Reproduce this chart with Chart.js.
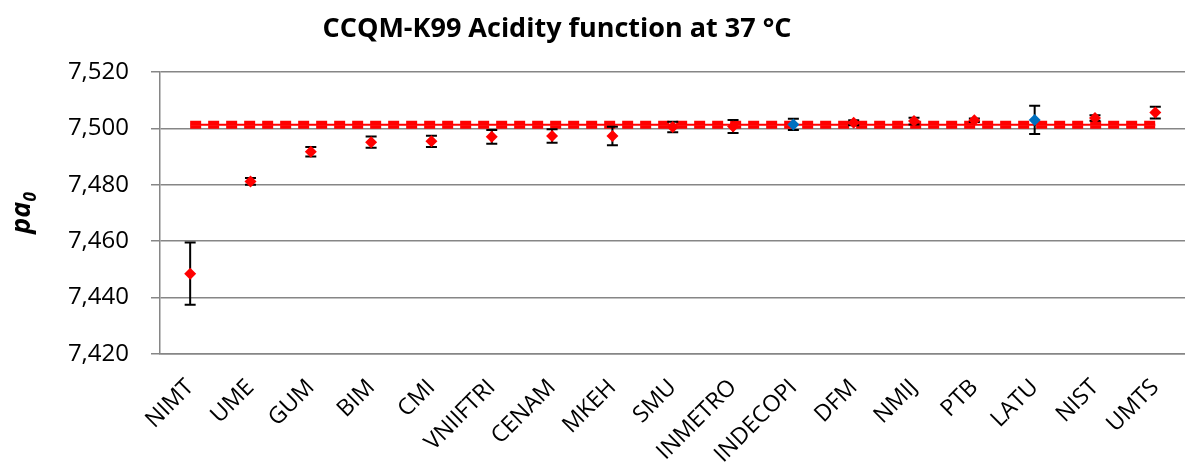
<!DOCTYPE html>
<html>
<head>
<meta charset="utf-8">
<title>CCQM-K99 Acidity function at 37 °C</title>
<script src="https://cdn.jsdelivr.net/npm/chart.js@4.4.1/dist/chart.umd.min.js"></script>
<style>
  html, body { margin: 0; padding: 0; background: #ffffff; overflow: hidden; }
  /* the plot runs a few pixels past the right edge, like the original */
  #wrap { width: 1185px; height: 470px; overflow: hidden; }
</style>
</head>
<body>
<div id="wrap">
  <canvas id="k99Chart" width="1195" height="470"></canvas>
</div>

<script>
// ---- data ----
const labs = ["NIMT", "UME", "GUM", "BIM", "CMI", "VNIIFTRI", "CENAM", "MKEH", "SMU",
  "INMETRO", "INDECOPI", "DFM", "NMIJ", "PTB", "LATU", "NIST", "UMTS"];
const pa0 = [7.4485, 7.4812, 7.4917, 7.4951, 7.4954, 7.4970, 7.4973, 7.4973, 7.5005,
  7.5007, 7.5014, 7.5020, 7.5026, 7.5029, 7.5030, 7.5037, 7.5056];
const unc = [0.0110, 0.0012, 0.0017, 0.0020, 0.0020, 0.0024, 0.0024, 0.0033, 0.0019,
  0.0023, 0.0020, 0.0009, 0.0012, 0.0006, 0.0050, 0.0010, 0.0021];
// INDECOPI and LATU are drawn in blue
const blueLabs = ["INDECOPI", "LATU"];
const kcrv = 7.5013;
const kcrvUnc = 0.0008;
const yTicks = [7.42, 7.44, 7.46, 7.48, 7.50, 7.52];

const RED = "#ff0000";
const BLUE = "#0070c0";
const GRID = "#868686";

const pointColors = labs.map((l) => (blueLabs.includes(l) ? BLUE : RED));
const firstLab = labs[0];
const lastLab = labs[labs.length - 1];

// error bars, drawn just before the points
const errorBars = {
  id: "errorBars",
  beforeDatasetDraw(chart, args) {
    if (args.index !== 3) return;
    const ctx = chart.ctx;
    const xs = chart.scales.x;
    const ys = chart.scales.y;
    ctx.save();
    ctx.strokeStyle = "#000000";
    ctx.lineWidth = 2;
    pa0.forEach((v, i) => {
      const x = xs.getPixelForValue(i);
      const top = ys.getPixelForValue(v + unc[i]);
      const bot = ys.getPixelForValue(v - unc[i]);
      ctx.beginPath();
      ctx.moveTo(x, top);
      ctx.lineTo(x, bot);
      ctx.moveTo(x - 5.5, top);
      ctx.lineTo(x + 5.5, top);
      ctx.moveTo(x - 5.5, bot);
      ctx.lineTo(x + 5.5, bot);
      ctx.stroke();
    });
    ctx.restore();
  },
};

// title and the y axis title with its subscript
const titles = {
  id: "titles",
  afterDraw(chart) {
    const ctx = chart.ctx;
    const area = chart.chartArea;
    ctx.save();
    ctx.fillStyle = "#000000";
    ctx.textAlign = "center";
    ctx.textBaseline = "alphabetic";
    ctx.font = "bold 27px 'Open Sans'";
    ctx.fillText("CCQM-K99 Acidity function at 37 °C", 557, 37);

    // "pa" with subscript 0, rotated
    const cy = (area.top + area.bottom) / 2;
    ctx.translate(30, cy);
    ctx.rotate(-Math.PI / 2);
    ctx.font = "italic bold 27px 'Open Sans'";
    const w1 = ctx.measureText("pa").width;
    ctx.font = "italic bold 17px 'Open Sans'";
    const w2 = ctx.measureText("0").width;
    const x0 = -(w1 + w2) / 2;
    ctx.textAlign = "left";
    ctx.font = "italic bold 27px 'Open Sans'";
    ctx.fillText("pa", x0, 0);
    ctx.font = "italic bold 17px 'Open Sans'";
    ctx.fillText("0", x0 + w1, 6);
    ctx.restore();
  },
};

const ctx = document.getElementById("k99Chart").getContext("2d");

new Chart(ctx, {
  type: "line",
  data: {
    labels: labs,
    datasets: [
      {
        // KCRV
        data: [{ x: firstLab, y: kcrv }, { x: lastLab, y: kcrv }],
        borderColor: RED,
        borderWidth: 2,
        pointRadius: 0,
        order: 3,
      },
      {
        data: [{ x: firstLab, y: kcrv + kcrvUnc }, { x: lastLab, y: kcrv + kcrvUnc }],
        borderColor: RED,
        borderWidth: 3.5,
        borderDash: [11, 7],
        pointRadius: 0,
        order: 2,
      },
      {
        data: [{ x: firstLab, y: kcrv - kcrvUnc }, { x: lastLab, y: kcrv - kcrvUnc }],
        borderColor: RED,
        borderWidth: 3.5,
        borderDash: [11, 7],
        pointRadius: 0,
        order: 2,
      },
      {
        // participants' results
        data: pa0,
        showLine: false,
        pointStyle: "rectRot",
        pointRadius: 6,
        pointBorderWidth: 0,
        pointBackgroundColor: pointColors,
        pointBorderColor: pointColors,
        order: 1,
      },
    ],
  },
  options: {
    responsive: false,
    animation: false,
    events: [],
    layout: { padding: { top: 72, right: 6, left: 0, bottom: 0 } },
    plugins: {
      legend: { display: false },
      tooltip: { enabled: false },
      title: { display: false },
    },
    scales: {
      x: {
        type: "category",
        offset: true,
        grid: { display: false, drawTicks: false },
        border: { display: true, color: GRID, width: 1.5 },
        ticks: {
          color: "#000000",
          font: { family: "'Open Sans'", size: 23 },
          maxRotation: 45,
          minRotation: 45,
          autoSkip: false,
          padding: 20,
        },
        afterFit(scale) {
          scale.height = 116;
        },
      },
      y: {
        min: 7.42,
        max: 7.52,
        afterBuildTicks(scale) {
          scale.ticks = yTicks.map((v) => ({ value: v }));
        },
        grid: { color: GRID, lineWidth: 1.5, tickLength: 9, drawTicks: true },
        border: { display: true, color: GRID, width: 1.5 },
        ticks: {
          color: "#000000",
          font: { family: "'Open Sans'", size: 24 },
          padding: 22,
          callback: (v) => Number(v).toFixed(3).replace(".", ","),
        },
        afterFit(scale) {
          scale.width = 160;
        },
      },
    },
  },
  plugins: [errorBars, titles],
});
</script>
</body>
</html>
